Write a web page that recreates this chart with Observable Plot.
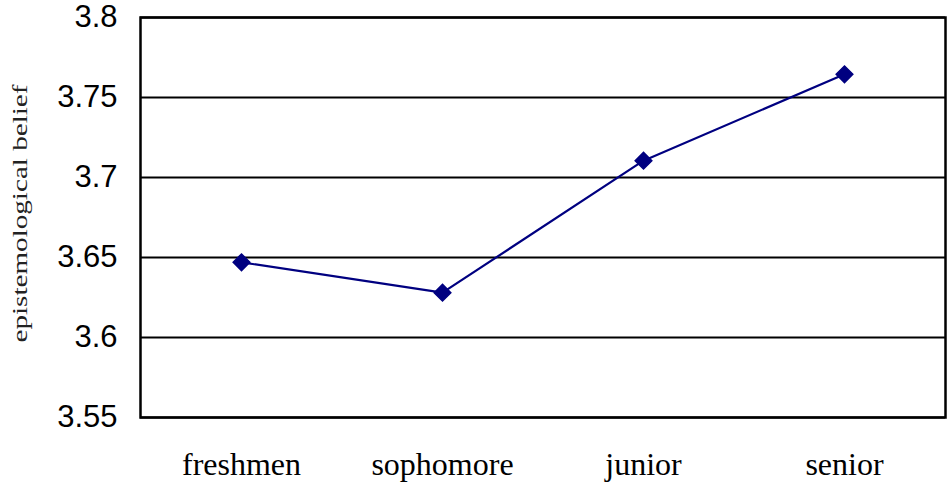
<!DOCTYPE html>
<html>
<head>
<meta charset="utf-8">
<script src="https://cdn.jsdelivr.net/npm/d3@7"></script>
<script src="https://cdn.jsdelivr.net/npm/@observablehq/plot@0.6"></script>
<style>
  html, body { margin: 0; padding: 0; background: #fff; }
  #chart svg { display: block; }
</style>
</head>
<body>
<div id="chart"></div>
<script>
const categories = ["freshmen", "sophomore", "junior", "senior"];
const values = [3.647, 3.628, 3.7105, 3.7645];
const yTicks = [3.55, 3.6, 3.65, 3.7, 3.75, 3.8];
const yLabel = "epistemological belief";

const data = categories.map((c, i) => ({ cat: c, v: values[i] }));

const chart = Plot.plot({
  width: 950,
  height: 488,
  marginLeft: 140,
  marginRight: 5,
  marginTop: 17,
  marginBottom: 71,
  style: { background: "#fff", color: "#000" },
  x: { type: "point", domain: categories, padding: 0.5, label: null },
  y: { domain: [3.55, 3.8], ticks: yTicks, label: null },
  marks: [
    Plot.ruleY(yTicks, { stroke: "#000", strokeWidth: 2 }),
    Plot.frame({ stroke: "#000", strokeWidth: 2.5 }),
    Plot.axisY({
      ticks: yTicks,
      tickSize: 0,
      tickPadding: 23,
      tickFormat: d => String(d),
      fontSize: 31,
      fontFamily: "Liberation Sans, Arial, sans-serif",
      label: null
    }),
    Plot.axisX({
      tickSize: 0,
      tickPadding: 35,
      fontSize: 32,
      fontFamily: "Liberation Serif, Times New Roman, serif",
      label: null
    }),
    Plot.text([yLabel], {
      frameAnchor: "left",
      textAnchor: "middle",
      dx: -120,
      dy: -4,
      rotate: -90,
      fontSize: 21,
      fontFamily: "Liberation Serif, Times New Roman, serif",
      fill: "#222",
      className: "ylabel"
    }),
    Plot.line(data, { x: "cat", y: "v", stroke: "#000080", strokeWidth: 2.2 }),
    Plot.dot(data, { x: "cat", y: "v", symbol: "diamond2", r: 7.5, fill: "#000080", stroke: "#000080" })
  ]
});
chart.querySelectorAll(".ylabel text").forEach(t => {
  t.setAttribute("textLength", "258");
  t.setAttribute("lengthAdjust", "spacingAndGlyphs");
});
document.getElementById("chart").appendChild(chart);
</script>
</body>
</html>
